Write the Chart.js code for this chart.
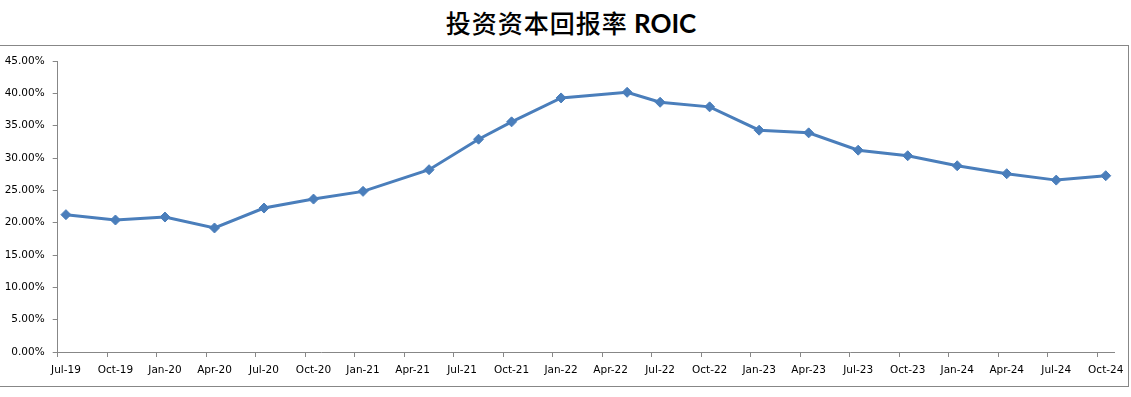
<!DOCTYPE html>
<html>
<head>
<meta charset="utf-8">
<script src="https://cdn.jsdelivr.net/npm/chart.js@4.4.1/dist/chart.umd.min.js"></script>
<style>
  html, body { margin: 0; padding: 0; background: #fff; overflow: hidden; }
  body { width: 1131px; height: 397px; position: relative; }
  #title {
    position: absolute; left: 0; top: 6px; width: 1131px; padding-left: 11px; box-sizing: border-box;
    text-align: center; font-size: 25px; line-height: 32px; color: #000; white-space: nowrap;
  }
  #title .cn { font-family: "Noto Sans CJK SC"; font-weight: 500; letter-spacing: 1px; }
  #title .en { font-family: "Lato", "Liberation Sans"; font-weight: 700; font-size: 26px; }
  #frame {
    position: absolute; left: -1px; top: 45px; width: 1128px; height: 340px;
    border: 1px solid #878787;
  }
</style>
</head>
<body>
<div id="title"><span class="cn">投资资本回报率</span> <span class="en">ROIC</span></div>
<div id="frame"><canvas id="c" width="1128" height="340"></canvas></div>
<script>
// report months and ROIC values (%)
var months = ['2019-07', '2019-10', '2020-01', '2020-04', '2020-07', '2020-10', '2021-01', '2021-05',
              '2021-08', '2021-10', '2022-01', '2022-05', '2022-07', '2022-10', '2023-01', '2023-04',
              '2023-07', '2023-10', '2024-01', '2024-04', '2024-07', '2024-10'];
var roic = [21.24, 20.41, 20.87, 19.18, 22.26, 23.65, 24.84, 28.19, 32.91, 35.59, 39.29,
            40.16, 38.62, 37.91, 34.30, 33.89, 31.21, 30.35, 28.80, 27.57, 26.58, 27.26];
var tickLabels = ['Jul-19', 'Oct-19', 'Jan-20', 'Apr-20', 'Jul-20', 'Oct-20', 'Jan-21', 'Apr-21',
                  'Jul-21', 'Oct-21', 'Jan-22', 'Apr-22', 'Jul-22', 'Oct-22', 'Jan-23', 'Apr-23',
                  'Jul-23', 'Oct-23', 'Jan-24', 'Apr-24', 'Jul-24', 'Oct-24'];
var yTicks = [0, 5, 10, 15, 20, 25, 30, 35, 40, 45];

var monNames = ['Jan', 'Feb', 'Mar', 'Apr', 'May', 'Jun', 'Jul', 'Aug', 'Sep', 'Oct', 'Nov', 'Dec'];

function monthIndex(y, m) { return (y - 2019) * 12 + (m - 7); }
function idxFromIso(s) { var p = s.split('-'); return monthIndex(+p[0], +p[1]); }
function idxFromLabel(s) { var p = s.split('-'); return monthIndex(2000 + +p[1], monNames.indexOf(p[0]) + 1); }

var points = months.map(function(m, i) { return { x: idxFromIso(m) + 0.5, y: roic[i] }; });
var tickPos = tickLabels.map(idxFromLabel);
var lastSlot = tickPos[tickPos.length - 1] + 1;

var axisColor = '#878787';
var font = { family: 'DejaVu Sans', size: 10.5 };

new Chart(document.getElementById('c'), {
  type: 'line',
  data: {
    datasets: [{
      label: 'ROIC',
      data: points,
      borderColor: '#4a7ebb',
      backgroundColor: '#4a7ebb',
      borderWidth: 3,
      pointStyle: 'rectRot',
      pointRadius: 5,
      pointBorderWidth: 1,
      tension: 0,
      fill: false
    }]
  },
  options: {
    responsive: false,
    animation: false,
    layout: { padding: { left: 0, right: 14, top: 15, bottom: 0 } },
    plugins: { legend: { display: false }, tooltip: { enabled: false } },
    scales: {
      x: {
        type: 'linear',
        min: 0,
        max: lastSlot,
        afterBuildTicks: function(scale) {
          scale.ticks = tickPos.map(function(v) { return { value: v }; });
        },
        afterFit: function(scale) { scale.height = 34; },
        ticks: {
          autoSkip: false,
          maxRotation: 0,
          labelOffset: 8.25,
          padding: 7,
          color: '#000',
          font: font,
          callback: function(v) {
            var i = tickPos.indexOf(v);
            return i >= 0 ? tickLabels[i] : '';
          }
        },
        grid: { drawOnChartArea: false, tickLength: 5, tickColor: axisColor, lineWidth: 1 },
        border: { color: axisColor, width: 1 }
      },
      y: {
        min: 0,
        max: 45,
        afterBuildTicks: function(scale) {
          scale.ticks = yTicks.map(function(v) { return { value: v }; });
        },
        afterFit: function(scale) { scale.width = 57.7; },
        ticks: {
          padding: 8,
          color: '#000',
          font: font,
          callback: function(v) { return v.toFixed(2) + '%'; }
        },
        grid: { drawOnChartArea: false, tickLength: 5, tickColor: axisColor },
        border: { color: axisColor, width: 1 }
      }
    }
  }
});
</script>
</body>
</html>
